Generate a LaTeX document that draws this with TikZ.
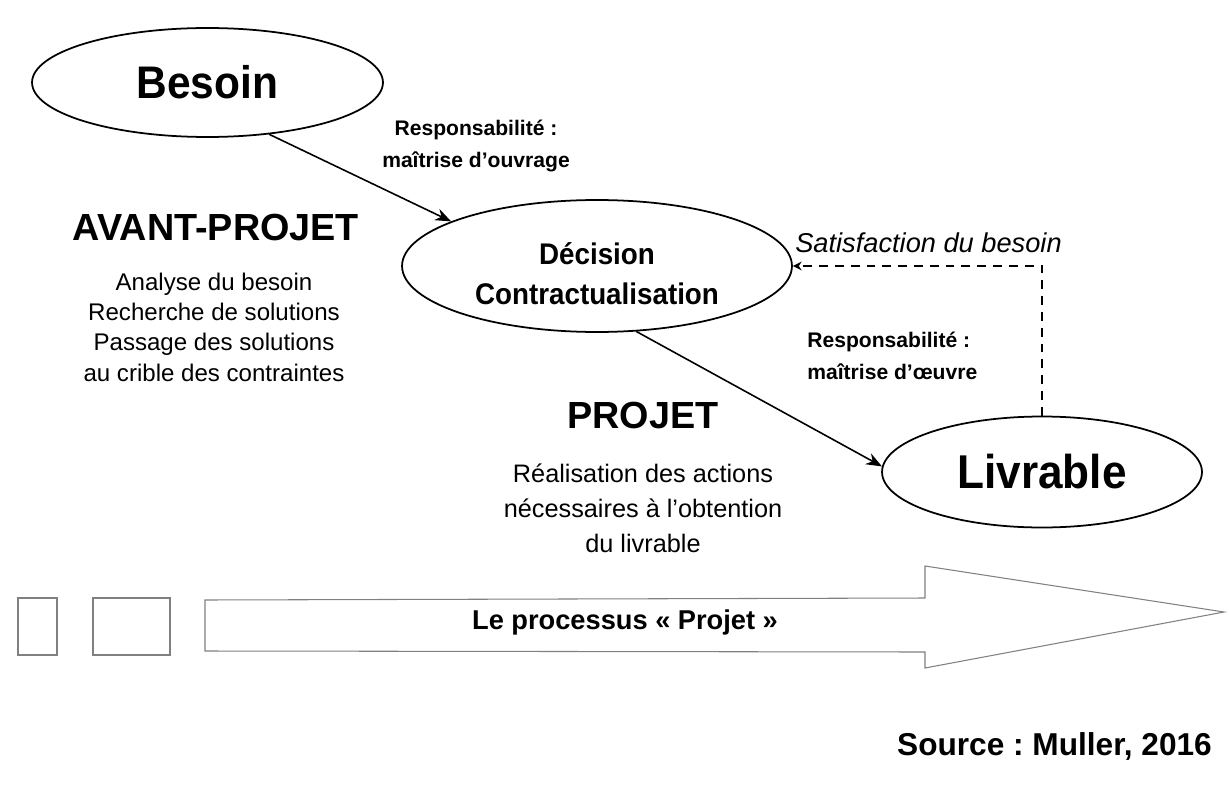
\documentclass[tikz,border=0pt]{standalone}
\usepackage{fontspec}
\setmainfont{Liberation Sans}
\newfontfamily\medfont[FakeStretch=0.93]{Liberation Sans Bold}
\frenchspacing
\usetikzlibrary{shapes.geometric,arrows.meta}

\tikzset{
  etape/.style={draw, ellipse, line width=1pt, inner sep=0pt},
  fleche/.style={-{Stealth[length=9pt,width=7pt]}, line width=0.9pt},
  resp/.style={font=\fontsize{12}{18}\selectfont\bfseries, inner sep=0pt},
  detail/.style={align=center, inner sep=0pt},
  titre/.style={anchor=base, font=\fontsize{21.5}{21.5}\selectfont\bfseries},
  grisfin/.style={draw=gray, line width=0.6pt}
}

\begin{document}
\begin{tikzpicture}[x=0.02cm, y=-0.02cm]
  \useasboundingbox (0,0) rectangle (1229,787);

  % Ellipses
  \node[etape, minimum width=7.02cm, minimum height=2.18cm,
        font=\medfont\fontsize{26}{26}\selectfont] (besoin) at (207.5,82.5) {Besoin};
  \node[etape, minimum width=7.8cm, minimum height=2.64cm] (decision) at (597,266) {};
  \node[align=center, font=\medfont\fontsize{17}{22.7}\selectfont] (decisionTxt) at (597,274)
        {Décision\\Contractualisation};
  \node[etape, minimum width=6.4cm, minimum height=2.22cm,
        font=\medfont\fontsize{27}{27}\selectfont] (livrable) at (1042,472) {Livrable};

  % Fleches
  \draw[fleche] (besoin.-40) -- (decision.163);
  \draw[fleche] (decision.-59) -- (livrable.178);
  \draw[line width=0.8pt, dash pattern=on 5pt off 4pt,
        -{Stealth[length=5pt,width=5pt]}] (livrable.north) |- (decision.east);

  % Textes
  \node[resp, align=center] (respMOA) at (476,146) {Responsabilité :\\maîtrise d’ouvrage};
  \node[resp, align=left, anchor=west] (respMOE) at (807,356) {Responsabilité :\\maîtrise d’œuvre};
  \node[anchor=base, font=\fontsize{15.5}{15.5}\selectfont\itshape] (satisf) at (928.5,252)
        {Satisfaction du besoin};

  \node[titre] (avant) at (216,240) {AVANT-PROJET};
  \node[detail, font=\fontsize{13.7}{17.3}\selectfont] (avantDetail) at (214,327)
        {Analyse du besoin\\Recherche de solutions\\Passage des solutions\\au crible des contraintes};
  \node[titre] (projet) at (643,428) {PROJET};
  \node[detail, font=\fontsize{14.4}{19.9}\selectfont] (projetDetail) at (643,508)
        {Réalisation des actions\\nécessaires à l’obtention\\du livrable};

  % Processus
  \draw[grisfin] (18,598) rectangle (57,655);
  \draw[grisfin] (93,598) rectangle (170,655);
  \draw[grisfin] (205,600) -- (925,598) -- (925,566) -- (1224,612)
        -- (925,668) -- (925,652) -- (205,651) -- cycle;
  \node[font=\fontsize{15.5}{15.5}\selectfont\bfseries] (processus) at (625,622)
        {Le processus « Projet »};

  \node[anchor=base east, font=\fontsize{18}{18}\selectfont\bfseries] (source) at (1218,755)
        {Source : Muller, 2016};
\end{tikzpicture}
\end{document}
